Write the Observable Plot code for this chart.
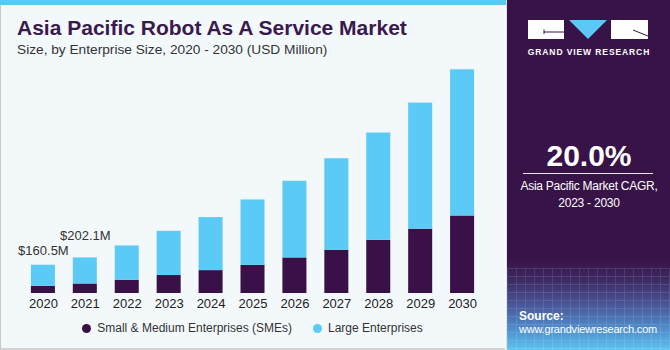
<!DOCTYPE html>
<html>
<head>
<meta charset="utf-8">
<script src="https://cdn.jsdelivr.net/npm/d3@7"></script>
<script src="https://cdn.jsdelivr.net/npm/@observablehq/plot@0.6"></script>
<style>
  html, body { margin: 0; padding: 0; background: #fff; }
  #wrap { position: relative; width: 670px; height: 350px; overflow: hidden; font-family: "Liberation Sans", Arial, sans-serif; }
  #left { position: absolute; left: 0; top: 0; width: 504px; height: 348px; background: #f3f8fb; border-left: 1px solid #c9c9c9; border-bottom: 2px solid #d3d3d3; }
  #strip { position: absolute; left: 0; top: 0; width: 506px; height: 5px; background: #5bc8f5; }
  #title { position: absolute; left: 17px; top: 17px; font-size: 21px; line-height: 21px; font-weight: bold; color: #3a1a4c; white-space: nowrap; }
  #subtitle { position: absolute; left: 17px; top: 42.7px; font-size: 13.7px; line-height: 13.7px; color: #333; white-space: nowrap; }
  #chart { position: absolute; left: 0; top: 60px; }
  #legend { position: absolute; left: 0; top: 321px; width: 505px; display: flex; justify-content: center; align-items: center; font-size: 12px; line-height: 14px; color: #333; }
  #legend .item { display: flex; align-items: center; }
  #legend .item + .item { margin-left: 21px; }
  #legend .dot { width: 9px; height: 9px; border-radius: 50%; margin-right: 6px; }
  #right { position: absolute; left: 506px; top: 0; width: 164px; height: 350px;
    background: linear-gradient(to bottom, #381348 0%, #381348 74%, #3d2a64 80%, #4a5c9e 88%, #5196d2 95%, #5cc3ef 100%); border-left: 1px solid #d8e2ea; box-sizing: border-box; }
  #grid { position: absolute; left: 0; top: 268px; width: 164px; height: 82px; opacity: 0.11;
    background-image: repeating-linear-gradient(to right, #fff 0 1px, transparent 1px 9px), repeating-linear-gradient(to bottom, #fff 0 1px, transparent 1px 8px); }
  #brand { position: absolute; left: 0; top: 47px; width: 164px; text-align: center; font-size: 8.5px; font-weight: bold; letter-spacing: 0.9px; color: #fff; }
  #cagr { position: absolute; left: 0; top: 141px; width: 164px; text-align: center; font-size: 30px; line-height: 30px; font-weight: bold; color: #fff; }
  #rule { position: absolute; left: 16px; top: 173px; width: 130px; height: 1px; background: #e8e4ee; }
  #cagrtxt { position: absolute; left: 0; top: 178px; width: 164px; text-align: center; font-size: 12px; line-height: 17px; color: #fff; letter-spacing: -0.25px; }
  #src { position: absolute; left: 12px; top: 310px; font-size: 12px; line-height: 13px; color: #fff; }
  #src b { display: block; }
  #src span { font-size: 11px; letter-spacing: -0.2px; }
</style>
</head>
<body>
<div id="wrap">
  <div id="left"></div>
  <div id="strip"></div>
  <div id="title">Asia Pacific Robot As A Service Market</div>
  <div id="subtitle">Size, by Enterprise Size, 2020 - 2030 (USD Million)</div>
  <div id="chart"></div>
  <div id="legend"></div>
  <div id="right">
    <div id="grid"></div>
    <svg style="position:absolute;left:0;top:0" width="164" height="45">
      <rect x="21" y="20" width="36" height="19" fill="#fff"/>
      <path d="M37 32 H57 M37 29.5 V34" stroke="#381348" stroke-width="1"/>
      <polygon points="62,20 100,20 81,39" fill="#5bc8f5"/>
      <rect x="104" y="20" width="37" height="19" fill="#fff"/>
      <path d="M126 30 L141 36" stroke="#381348" stroke-width="1"/>
    </svg>
    <div id="brand">GRAND VIEW RESEARCH</div>
    <div id="cagr">20.0%</div>
    <div id="rule"></div>
    <div id="cagrtxt">Asia Pacific Market CAGR,<br>2023 - 2030</div>
    <div id="src"><b>Source:</b><span>www.grandviewresearch.com</span></div>
  </div>
</div>
<script>
// ---- data ----
const years = [2020, 2021, 2022, 2023, 2024, 2025, 2026, 2027, 2028, 2029, 2030];
const smeValues = [41, 54, 75, 102, 130, 160, 202, 246, 302, 365, 440];
const largeValues = [119.5, 148.1, 195, 251, 301, 371, 435, 519, 609, 716, 830];
const seriesNames = ["Small & Medium Enterprises (SMEs)", "Large Enterprises"];
const seriesColors = ["#3a1048", "#5ccaf6"];
const labelYears = [2020, 2021];
const labelTexts = ["$160.5M", "$202.1M"];

// ---- tables ----
const rows = [];
years.forEach((yr, i) => rows.push({year: yr, series: seriesNames[0], value: smeValues[i]}));
years.forEach((yr, i) => rows.push({year: yr, series: seriesNames[1], value: largeValues[i]}));
const totalOf = yr => { const i = years.indexOf(yr); return smeValues[i] + largeValues[i]; };
const labels = labelYears.map((yr, i) => ({year: yr, text: labelTexts[i], total: totalOf(yr)}));

const chart = Plot.plot({
  width: 505,
  height: 258,
  marginLeft: 13,
  marginRight: 13,
  marginTop: 4,
  marginBottom: 25,
  style: {fontFamily: "Liberation Sans, Arial, sans-serif", fontSize: "13px", color: "#222", background: "transparent", overflow: "visible"},
  x: {type: "band", domain: years, padding: 0.427, round: false, tickFormat: d => String(d), label: null},
  y: {domain: [0, 1300], axis: null},
  color: {domain: seriesNames, range: seriesColors},
  marks: [
    Plot.barY(rows, {x: "year", y: "value", fill: "series", order: seriesNames}),
    Plot.axisX({tickSize: 0, tickPadding: 5, fontSize: 13, label: null, tickFormat: d => String(d)}),
    Plot.text(labels.filter(d => d.year === 2020), {x: "year", y: "total", text: "text", dy: -14, fontSize: 13, fill: "#333"}),
    Plot.text(labels.filter(d => d.year === 2021), {x: "year", y: "total", text: "text", dy: -22, fontSize: 13, fill: "#333"})
  ]
});
document.getElementById("chart").appendChild(chart);

const legend = document.getElementById("legend");
seriesNames.forEach((name, i) => {
  const item = document.createElement("div");
  item.className = "item";
  const dot = document.createElement("div");
  dot.className = "dot";
  dot.style.background = seriesColors[i];
  const txt = document.createElement("span");
  txt.textContent = name;
  item.appendChild(dot);
  item.appendChild(txt);
  legend.appendChild(item);
});
</script>
</body>
</html>
